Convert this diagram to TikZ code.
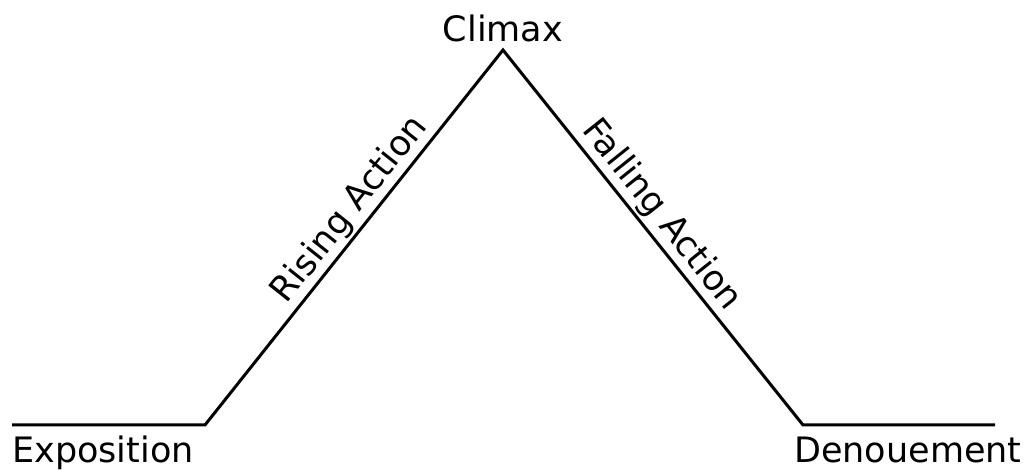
\documentclass[tikz,border=0pt]{standalone}
\usepackage{fontspec}
\setmainfont{DejaVu Sans}
\usetikzlibrary{positioning,calc}

\begin{document}
\begin{tikzpicture}[x=1pt,y=1pt,
  stage/.style={font=\fontsize{35}{40}\selectfont, inner sep=0pt},
  plot/.style={line width=3pt, line join=miter}]
  \useasboundingbox (0,0) rectangle (1026,470);

  % Corners of the pyramid
  \coordinate (start) at (12,45);
  \coordinate (expo) at (205,45);
  \coordinate (peak) at (503,420);
  \coordinate (deno) at (803,45);
  \coordinate (end) at (995,45);

  % The plot line
  \draw[plot] (start) -- (expo)
    -- node[stage, sloped, above=2pt, pos=0.54] (rising) {Rising Action} (peak)
    -- node[stage, sloped, above=2pt, pos=0.475] (falling) {Falling Action} (deno)
    -- (end);

  % Stage names
  \node[stage, anchor=base] (climax) at (503,428) {Climax};
  \node[stage, anchor=base west] (exposition) at (12,7) {Exposition};
  \node[stage, anchor=base west] (denouement) at (794,7) {Denouement};
\end{tikzpicture}
\end{document}
